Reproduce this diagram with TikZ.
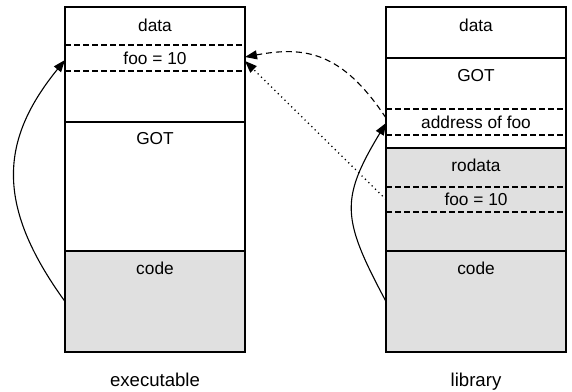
\documentclass[tikz,border=0pt]{standalone}
\usepackage{fontspec}
\setmainfont{Liberation Sans}
\usetikzlibrary{arrows.meta}
\definecolor{segfill}{HTML}{E0E0E0}
\begin{document}
\begin{tikzpicture}[x=1bp,y=-1bp,
  seg/.style={draw=black, line width=2.3bp, rectangle, inner sep=0pt, outer sep=0pt, minimum width=180bp},
  greyseg/.style={seg, fill=segfill},
  row/.style={rectangle, inner sep=0pt, outer sep=0pt, minimum width=180bp},
  rowline/.style={dash pattern=on 5.5bp off 3.5bp, line width=1.1bp},
  txt/.style={font=\fontsize{17.3bp}{20bp}\selectfont, inner sep=0pt},
  captext/.style={font=\fontsize{18.6bp}{22bp}\selectfont, inner sep=0pt, anchor=base},
  arr/.style={line width=1.1bp, -{Triangle[length=12bp,width=9bp]}},
]
\useasboundingbox[fill=white] (0,0) rectangle (572,391);

% executable
\node[seg, minimum height=115bp] (ldata) at (155,64.5) {};
\node[seg, minimum height=129bp] (lgot) at (155,186.5) {};
\node[greyseg, minimum height=101bp] (lcode) at (155,301.5) {};
\node[row, txt, minimum height=26bp] (lfoo) at (155,58) {foo = 10};
\node[txt] (tldata) at (155,25) {data};
\node[txt] (tlgot) at (155,139) {GOT};
\node[txt] (tlcode) at (155,268) {code};

% library
\node[seg, minimum height=51bp] (rdata) at (476,32.5) {};
\node[seg, minimum height=90bp] (rgot) at (476,103) {};
\node[greyseg, minimum height=103bp] (rrodata) at (476,199.5) {};
\node[greyseg, minimum height=101bp] (rcode) at (476,301.5) {};
\node[row, txt, minimum height=26bp] (raddr) at (476,122) {address of foo};
\node[row, txt, minimum height=25bp] (rfoo) at (476,199.5) {foo = 10};
\node[txt] (trdata) at (476,25) {data};
\node[txt] (trgot) at (476,76) {GOT};
\node[txt] (trrodata) at (476,165) {rodata};
\node[txt] (trcode) at (476,268) {code};

\foreach \r in {lfoo,raddr,rfoo} {
  \draw[rowline] (\r.north west) -- (\r.north east) (\r.south west) -- (\r.south east);
}

\node[captext] (lexe) at (155,386) {executable};
\node[captext] (llib) at (476,386) {library};

% connectors
\draw[arr] (lcode.west) .. controls (-5,205) and (0,140) .. ([yshift=-2bp]lfoo.west);
\draw[arr] (rcode.west) .. controls (342,219) and (339.5,200) .. ([yshift=-1bp]raddr.west);
\draw[arr, dash pattern=on 6bp off 4bp] ([yshift=4bp]raddr.west) .. controls (342,51.6) and (305,46) .. ([yshift=1bp]lfoo.east);
\draw[arr, line width=1.3bp, dash pattern=on 1.2bp off 3.5bp] (rfoo.west) -- ([yshift=-3bp]lfoo.east);
\end{tikzpicture}
\end{document}
